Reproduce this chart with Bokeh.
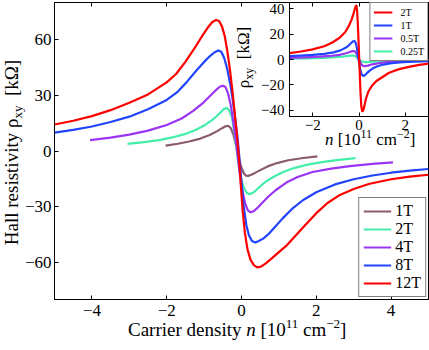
from bokeh.plotting import figure
from bokeh.models import Range1d, LinearAxis, FixedTicker, Legend, LegendItem, Div
from bokeh.layouts import column
from bokeh.embed import file_html
from bokeh.resources import INLINE

# ---------------- data ----------------
n_1T = [-2.03, -1.7, -1.4, -1.1, -0.85, -0.65, -0.52, -0.43, -0.36, -0.29, -0.22, -0.15, -0.08, -0.01,
        0.06, 0.12, 0.18, 0.26, 0.36, 0.5, 0.7, 0.95, 1.25, 1.6, 2.03]
rho_1T = [2.9, 3.9, 5.1, 6.7, 8.6, 10.7, 12.3, 13.3, 13.6, 12.5, 9.0, 3.5, -3.0, -8.5,
          -12.0, -13.3, -13.4, -12.8, -11.8, -10.3, -8.3, -6.5, -5.0, -3.9, -2.9]

n_2T = [-3.05, -2.6, -2.2, -1.85, -1.5, -1.2, -0.95, -0.78, -0.65, -0.55, -0.47, -0.4, -0.33, -0.26,
        -0.19, -0.12, -0.06, 0.01, 0.08, 0.14, 0.2, 0.28, 0.38, 0.5, 0.65, 0.85, 1.1, 1.4, 1.8, 2.2, 2.6, 3.05]
rho_2T = [3.8, 4.8, 5.9, 7.3, 9.2, 11.6, 14.3, 16.8, 19.0, 21.0, 22.6, 23.2, 22.0, 18.5,
          10.0, -1.0, -10.0, -16.5, -20.5, -22.5, -23.2, -22.8, -21.3, -19.0, -16.5, -14.0, -11.5, -9.2,
          -7.2, -5.9, -4.8, -3.8]

n_4T = [-4.05, -3.5, -3.0, -2.5, -2.0, -1.6, -1.3, -1.05, -0.85, -0.7, -0.58, -0.5, -0.43, -0.36, -0.29,
        -0.22, -0.16, -0.1, -0.04, 0.03, 0.1, 0.17, 0.24, 0.32, 0.42, 0.55, 0.72, 0.92, 1.2, 1.5, 1.9,
        2.4, 2.9, 3.5, 4.05]
rho_4T = [5.9, 7.2, 8.8, 11.0, 14.0, 17.5, 21.5, 25.5, 29.5, 32.5, 34.6, 35.2, 34.5, 31.0, 25.0,
          16.0, 7.0, -3.0, -13.0, -22.0, -28.5, -32.0, -33.0, -32.5, -30.8, -28.0, -24.5, -21.0, -17.0,
          -14.0, -11.3, -9.5, -8.1, -6.9, -6.1]

n_8T = [-5.0, -4.5, -4.0, -3.5, -3.0, -2.5, -2.0, -1.7, -1.45, -1.2, -1.0, -0.85, -0.72, -0.62, -0.54,
        -0.46, -0.38, -0.3, -0.23, -0.16, -0.1, -0.05, 0.0, 0.06, 0.13, 0.2, 0.28, 0.37, 0.46, 0.58,
        0.72, 0.9, 1.1, 1.35, 1.65, 2.0, 2.5, 3.0, 3.5, 4.0, 4.5, 5.0]
rho_8T = [9.9, 11.4, 13.2, 15.6, 18.5, 22.5, 27.5, 32.0, 37.5, 43.5, 48.0, 51.0, 53.2, 54.2, 53.5,
          50.0, 44.0, 36.0, 27.0, 16.0, 6.0, -5.0, -17.0, -30.0, -40.0, -45.5, -48.5, -49.3, -48.5, -47.2,
          -44.8, -40.8, -36.3, -31.2, -26.4, -22.2, -18.0, -15.2, -13.2, -11.7, -10.6, -9.7]

n_12T = [-5.0, -4.5, -4.0, -3.5, -3.0, -2.5, -2.0, -1.75, -1.5, -1.25, -1.05, -0.9, -0.78, -0.68, -0.6,
         -0.52, -0.45, -0.38, -0.31, -0.24, -0.17, -0.11, -0.06, -0.02, 0.03, 0.09, 0.16, 0.24, 0.33,
         0.42, 0.52, 0.65, 0.8, 1.0, 1.2, 1.45, 1.7, 2.0, 2.3, 2.6, 3.0, 3.4, 4.0, 4.5, 5.0]
rho_12T = [14.3, 16.3, 18.8, 22.0, 26.0, 30.5, 37.0, 41.5, 48.0, 55.5, 62.0, 66.5, 69.5, 70.6, 70.0,
           67.0, 62.0, 54.0, 44.0, 32.0, 18.0, 6.0, -6.0, -18.0, -32.0, -44.0, -53.0, -58.5, -61.5,
           -62.7, -62.3, -60.5, -58.0, -54.5, -51.0, -45.5, -40.0, -33.5, -28.0, -24.0, -20.5, -17.8,
           -15.2, -13.8, -12.8]

ni_2T = [-3.0, -2.5, -2.0, -1.5, -1.15, -0.85, -0.6, -0.44, -0.32, -0.24, -0.18, -0.14, -0.11, -0.08,
         -0.05, -0.02, 0.01, 0.04, 0.07, 0.1, 0.14, 0.18, 0.23, 0.3, 0.4, 0.55, 0.75, 1.0, 1.3, 1.7, 2.1,
         2.6, 3.0]
ri_2T = [5.0, 6.3, 8.0, 10.5, 13.4, 17.0, 21.5, 26.5, 31.5, 36.0, 40.0, 42.2, 42.5, 38.0,
         28.0, 15.0, 0.0, -15.0, -28.0, -37.0, -40.8, -40.5, -37.0, -31.0, -25.5, -21.0, -17.0, -14.0,
         -10.5, -7.8, -6.0, -4.3, -3.2]

ni_1T = [-3.0, -2.5, -2.0, -1.5, -1.1, -0.8, -0.58, -0.44, -0.34, -0.26, -0.2, -0.15, -0.1, -0.05, 0.0,
         0.05, 0.1, 0.15, 0.2, 0.26, 0.34, 0.45, 0.6, 0.8, 1.05, 1.4, 1.9, 2.4, 3.0]
ri_1T = [2.6, 3.0, 3.6, 4.5, 5.6, 7.2, 9.2, 11.2, 13.0, 14.3, 14.6, 13.5, 10.0, 4.5, -2.0,
         -7.5, -11.0, -12.6, -12.9, -12.2, -10.8, -9.0, -7.0, -5.3, -4.0, -2.9, -2.1, -1.6, -1.3]

ni_05T = [-3.0, -2.3, -1.7, -1.2, -0.85, -0.6, -0.43, -0.32, -0.24, -0.17, -0.11, -0.05, 0.0, 0.06,
          0.12, 0.18, 0.24, 0.32, 0.42, 0.58, 0.8, 1.1, 1.5, 2.1, 3.0]
ri_05T = [1.3, 1.7, 2.2, 2.9, 3.7, 4.7, 5.7, 6.4, 6.7, 6.3, 4.8, 2.2, 0.0, -2.5,
          -4.2, -5.1, -5.3, -5.1, -4.6, -3.8, -3.0, -2.3, -1.7, -1.2, -0.8]

ni_025T = [-3.0, -2.2, -1.5, -1.0, -0.7, -0.48, -0.34, -0.24, -0.15, -0.07, 0.0, 0.08, 0.17, 0.27,
           0.38, 0.52, 0.75, 1.1, 1.6, 2.2, 3.0]
ri_025T = [0.6, 0.9, 1.3, 1.8, 2.3, 2.8, 3.1, 3.1, 2.5, 1.2, 0.0, -1.1, -1.8, -2.1,
           -2.1, -1.9, -1.6, -1.2, -0.9, -0.7, -0.5]

main_labels = ["1T", "2T", "4T", "8T", "12T"]
inset_labels = ["2T", "1T", "0.5T", "0.25T"]
main_xticks = [-4, -2, 0, 2, 4]
main_yticks = [-60, -30, 0, 30, 60]
inset_xticks = [-2, 0, 2]
inset_yticks = [-40, -20, 0, 20, 40]

# ---------------- styles ----------------
C_BROWN = "#8C5A6E"
C_AQUA = "#44EEAA"
C_PURPLE = "#9B35F5"
C_BLUE = "#2244FF"
C_RED = "#FF0000"
FONT = "Liberation Serif"
MINUS = "\u2212"


def fmt(v):
    return (MINUS + str(abs(v))) if v < 0 else str(v)


def style_axis(ax, ticks, size, standoff, show=True):
    ax.ticker = FixedTicker(ticks=ticks)
    ax.major_label_overrides = {t: (fmt(t) if show else "") for t in ticks}
    ax.major_label_text_font = FONT
    ax.major_label_text_font_size = size if show else "0px"
    ax.major_label_text_color = "black"
    ax.major_label_standoff = standoff if show else 0
    ax.major_tick_in = 4
    ax.major_tick_out = 0
    ax.minor_tick_line_color = None
    ax.axis_line_color = "black"
    ax.major_tick_line_color = "black"
    ax.axis_label = None


def sup(t, size, dy):
    return f'<span style="font-size:{size}px;position:relative;top:{dy}px">{t}</span>'


def text_div(html, left, top, w, h, size, rotate=False, align="left"):
    st = {"position": "absolute", "left": f"{left}px", "top": f"{top}px", "z-index": "3",
          "font-family": FONT, "font-size": f"{size}px", "line-height": f"{h}px", "color": "black",
          "white-space": "nowrap", "text-align": align}
    if rotate:
        st["transform"] = "rotate(-90deg)"
        st["transform-origin"] = "center center"
    return Div(text=html, width=w, height=h, margin=0, styles=st)


# ---------------- main figure ----------------
W, H = 429, 350
p = figure(width=W, height=H, x_range=Range1d(-5, 5), y_range=Range1d(-80, 80),
           output_backend="svg", toolbar_location=None,
           min_border_left=54, min_border_right=1, min_border_top=2, min_border_bottom=51)
p.grid.visible = False
p.outline_line_color = "black"
p.outline_line_width = 1
p.background_fill_color = "white"
p.border_fill_color = "white"
style_axis(p.xaxis[0], main_xticks, "17px", 5)
style_axis(p.yaxis[0], main_yticks, "17px", 3)
ax_top = LinearAxis()
style_axis(ax_top, main_xticks, "0px", 0, show=False)
p.add_layout(ax_top, "above")

series = [(n_1T, rho_1T, C_BROWN), (n_2T, rho_2T, C_AQUA), (n_4T, rho_4T, C_PURPLE),
          (n_8T, rho_8T, C_BLUE), (n_12T, rho_12T, C_RED)]
for (xs, ys, c), lab in zip(series, main_labels):
    p.line(xs, ys, line_color=c, line_width=2.2, line_join="round", legend_label=lab)

lg = p.legend[0]
lg.location = "bottom_right"
lg.margin = 2
lg.padding = 4
lg.spacing = 0
lg.glyph_width = 28
lg.glyph_height = 18
lg.label_height = 18
lg.label_standoff = 4
lg.label_text_font = FONT
lg.label_text_font_size = "16px"
lg.label_text_color = "black"
lg.border_line_color = "black"
lg.border_line_width = 1
lg.background_fill_color = "white"
lg.background_fill_alpha = 1.0

# ---------------- inset figure ----------------
IW, IH = 194, 150
ins = figure(width=IW, height=IH, x_range=Range1d(-3, 3), y_range=Range1d(-45, 45),
             output_backend="svg", toolbar_location=None,
             min_border_left=54, min_border_right=1, min_border_top=2, min_border_bottom=34)
ins.grid.visible = False
ins.outline_line_color = "black"
ins.outline_line_width = 1
ins.background_fill_color = "white"
ins.border_fill_alpha = 0.0
style_axis(ins.xaxis[0], inset_xticks, "15px", 3)
style_axis(ins.yaxis[0], inset_yticks, "15px", 5)
iax_top = LinearAxis()
style_axis(iax_top, inset_xticks, "0px", 0, show=False)
ins.add_layout(iax_top, "above")

iseries = [(ni_025T, ri_025T, C_AQUA), (ni_05T, ri_05T, C_PURPLE), (ni_1T, ri_1T, C_BLUE),
           (ni_2T, ri_2T, C_RED)]
renderers = {}
for (xs, ys, c), lab in zip(iseries, list(reversed(inset_labels))):
    renderers[lab] = ins.line(xs, ys, line_color=c, line_width=2.2, line_join="round")

ileg = Legend(items=[LegendItem(label=l, renderers=[renderers[l]]) for l in inset_labels],
              location="top_right", margin=0, padding=3, spacing=1, glyph_width=19, glyph_height=12,
              label_height=12, label_standoff=8, label_text_font=FONT, label_text_font_size="10px",
              label_text_color="black", border_line_color="black", border_line_width=1,
              background_fill_color="white", background_fill_alpha=1.0)
ins.add_layout(ileg)
ins.styles = {"position": "absolute", "left": "235px", "top": "0px", "z-index": "2"}

# ---------------- axis titles (rich HTML text) ----------------
xlab = text_div("Carrier density <i>n</i> [10" + sup("11", 13, -8) + " cm" + sup(MINUS + "2", 13, -8) + "]",
                128, 319, 260, 21, 19)
ylab = text_div("Hall resistivity \u03c1" + sup("xy", 13, 4) + "&nbsp; [k\u03a9]",
                -89, 142, 200, 21, 19, rotate=True, align="center")
ixlab = text_div("<i>n</i> [10" + sup("11", 12, -7) + " cm" + sup(MINUS + "2", 12, -7) + "]",
                 325, 130, 110, 19, 17)
iylab = text_div("\u03c1" + sup("xy", 12, 4) + "&nbsp; [k\u03a9]",
                 193, 48, 100, 19, 17, rotate=True, align="center")

layout = column(p, ins, xlab, ylab, ixlab, iylab)
open("out.html", "w").write(file_html(layout, INLINE))
